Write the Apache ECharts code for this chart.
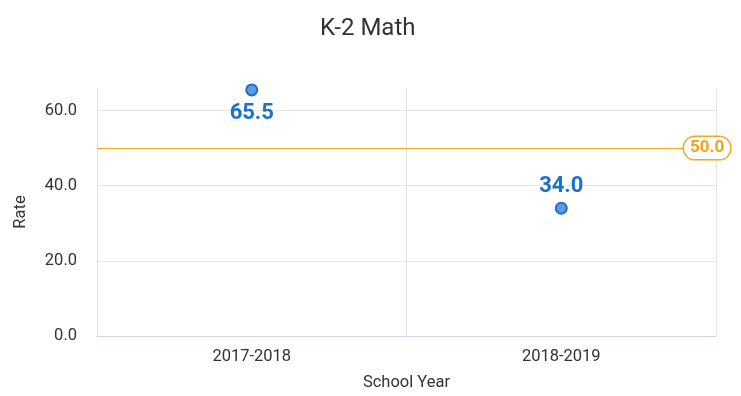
<!DOCTYPE html>
<html>
<head>
<meta charset="utf-8">
<script src="https://cdn.jsdelivr.net/npm/echarts@6/dist/echarts.min.js"></script>
<style>
  html, body { margin: 0; padding: 0; background: #fff; }
  #chart { width: 741px; height: 396px; }
</style>
</head>
<body>
<div id="chart"></div>
<script>
// School years on the x axis and the rate recorded for each
const years = ['2017-2018', '2018-2019'];
const rates = [65.5, 34.0];
// Where each value label sits relative to its point
const labelSides = ['bottom', 'top'];
// Target rate drawn as a horizontal reference line
const targetRate = 50.0;

const chart = echarts.init(document.getElementById('chart'));

chart.setOption({
  animation: false,
  textStyle: { fontFamily: 'Roboto, "Noto Sans", sans-serif' },
  title: {
    text: 'K-2 Math',
    left: 315,
    top: 12,
    textStyle: { fontSize: 24, fontWeight: 'normal', color: '#333' }
  },
  grid: { left: 97, right: 25, top: 88, bottom: 58 },
  xAxis: {
    type: 'category',
    data: years,
    boundaryGap: true,
    name: 'School Year',
    nameLocation: 'middle',
    nameGap: 38,
    nameTextStyle: { fontSize: 16.5, color: '#333' },
    axisLine: { show: true, lineStyle: { color: '#c9d6ec', width: 1 } },
    axisTick: { show: false },
    axisLabel: { fontSize: 16.5, color: '#333', margin: 12 },
    splitLine: { show: true, lineStyle: { color: '#e3e3e3' } }
  },
  yAxis: {
    type: 'value',
    min: 0,
    max: 66,
    interval: 20,
    name: 'Rate',
    nameLocation: 'middle',
    nameGap: 68,
    nameTextStyle: { fontSize: 16.5, color: '#333' },
    axisLine: { show: false },
    axisTick: { show: false },
    axisLabel: {
      fontSize: 16.5,
      color: '#333',
      margin: 20,
      showMaxLabel: false,
      formatter: v => v.toFixed(1)
    },
    splitLine: { show: true, showMaxLine: false, lineStyle: { color: '#e6e6e6' } }
  },
  series: [{
    type: 'scatter',
    symbol: 'circle',
    symbolSize: 11,
    itemStyle: { color: '#5c9ce6', borderColor: '#1f6fc5', borderWidth: 2, opacity: 1 },
    data: rates.map((v, i) => ({
      value: v,
      label: { position: labelSides[i], distance: labelSides[i] === 'bottom' ? 6 : 4 }
    })),
    label: {
      show: true,
      fontSize: 22,
      fontWeight: 'bold',
      color: '#1a73c8',
      formatter: p => p.value.toFixed(1)
    },
    markLine: {
      silent: true,
      symbol: 'none',
      lineStyle: { color: '#f5a623', type: 'solid', width: 1 },
      label: {
        show: true,
        position: 'end',
        distance: -32,
        formatter: p => p.value.toFixed(1),
        color: '#f5a31c',
        fontSize: 17,
        fontWeight: 'bold',
        backgroundColor: '#fff',
        borderColor: '#f5a623',
        borderWidth: 1.5,
        borderRadius: 12,
        padding: [3, 6, 2, 6]
      },
      data: [{ yAxis: targetRate }]
    }
  }]
});
</script>
</body>
</html>
